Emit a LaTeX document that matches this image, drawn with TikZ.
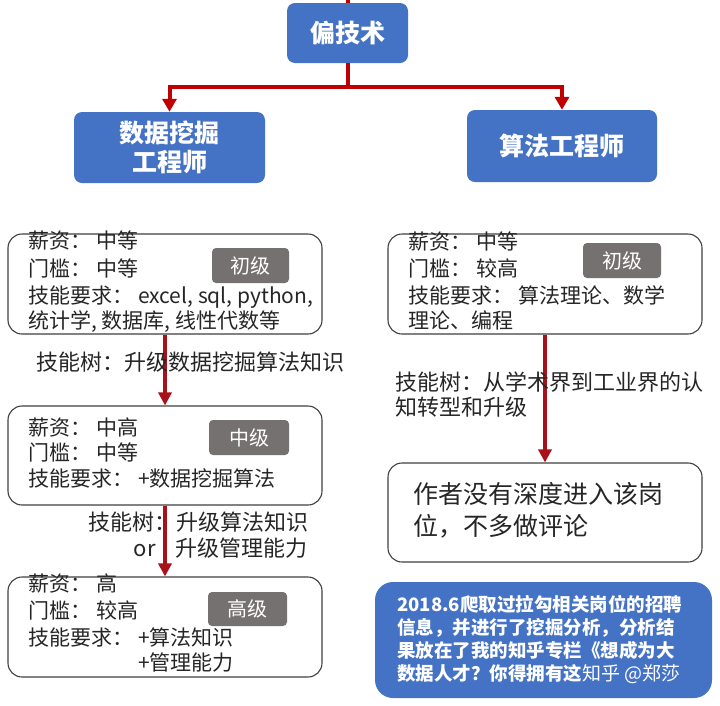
\documentclass[tikz,border=0pt]{standalone}
\usepackage{fontspec}
\setmainfont{Noto Sans CJK SC}
\usetikzlibrary{arrows.meta}
\definecolor{hblue}{HTML}{4472C4}
\definecolor{arrred}{HTML}{C00000}
\definecolor{colred}{HTML}{A8101A}
\definecolor{badgegray}{HTML}{767171}
\definecolor{bordgray}{HTML}{404040}
\definecolor{txt}{HTML}{262626}
\begin{document}
\begin{tikzpicture}[x=1pt,y=-1pt,
  headbox/.style={fill=hblue, rounded corners=8, text=white, font=\fontsize{25}{28}\bfseries\selectfont, align=center, inner sep=0},
  infobox/.style={draw=bordgray, line width=1.1pt, rounded corners=14, fill=white, minimum width=314, minimum height=100, inner sep=0},
  badgebox/.style={fill=badgegray, rounded corners=4, text=white, font=\fontsize{20}{22}\selectfont, inner sep=0, minimum height=35},
  ln/.style={anchor=west, inner sep=0, text=txt, font=\fontsize{21}{24}\selectfont, text height=0.88em, text depth=0.12em},
  lnbig/.style={ln, font=\fontsize{25}{28}\selectfont},
  lab/.style={ln, font=\fontsize{22}{24}\selectfont},
  bluetxt/.style={anchor=west, inner sep=0, text=white, font=\fontsize{18.5}{22}\bfseries\selectfont, text height=0.88em, text depth=0.12em},
  conn/.style={draw=arrred, line width=4pt},
  connarr/.style={conn, -{Triangle[length=13pt,width=14pt]}},
  colarr/.style={draw=colred, line width=4pt, -{Triangle[length=13pt,width=13pt]}},
]
\useasboundingbox[fill=white] (0,0) rectangle (720,705);

% heading boxes
\node[headbox, minimum width=121, minimum height=60] (top) at (347.5,33) {偏技术};
\node[headbox, minimum width=191, minimum height=71] (dm) at (169.5,147.5) {数据挖掘\\[1pt]工程师};
\node[headbox, minimum width=190, minimum height=72] (alg) at (562,146) {算法工程师};

\coordinate (topin) at (347.5,0);
\draw[conn] (topin) -- (top.north);
\draw[connarr] (top.south) -- ++(0,24) -| (dm.north);
\draw[connarr] (top.south) -- ++(0,24) -| (alg.north);

% left column boxes
\node[infobox] (L1) at (165,284) {};
\node[infobox, minimum height=99] (L2) at (165,455.5) {};
\node[infobox] (L3) at (165,627) {};
% right column boxes
\node[infobox] (R1) at (545,284) {};
\node[infobox, minimum height=99] (R2) at (545,512.5) {};
\node[fill=hblue, rounded corners=18, minimum width=337, minimum height=116, inner sep=0] (B) at (543.5,640) {};

% badges
\node[badgebox, minimum width=77] (b1) at (250.5,265.5) {初级};
\node[badgebox, minimum width=80] (b2) at (249,437.5) {中级};
\node[badgebox, minimum width=79, minimum height=34] (b3) at (247.5,609) {高级};
\node[badgebox, minimum width=78] (b4) at (622,260.5) {初级};

% L1 text
\node[ln] (l1a) at (28,245) {薪资：\hspace{5pt}中等};
\node[ln] (l1b) at (28,273) {门槛：\hspace{5pt}中等};
\node[ln] (l1c) at (28,300) {技能要求：\hspace{5pt}excel, sql, python,};
\node[ln] (l1d) at (28,325) {统计学, 数据库, 线性代数等};
% L2 text
\node[ln] (l2a) at (28,432) {薪资：\hspace{5pt}中高};
\node[ln] (l2b) at (28,457) {门槛：\hspace{5pt}中等};
\node[ln] (l2c) at (28,483) {技能要求：\hspace{5pt}+数据挖掘算法};
% L3 text
\node[ln] (l3a) at (28,588) {薪资：\hspace{5pt}高};
\node[ln] (l3b) at (28,615) {门槛：\hspace{5pt}较高};
\node[ln] (l3c) at (28,642) {技能要求：\hspace{5pt}+算法知识};
\node[ln] (l3d) at (138,667) {+管理能力};
% R1 text
\node[ln] (r1a) at (408,246) {薪资：\hspace{5pt}中等};
\node[ln] (r1b) at (408,273) {门槛：\hspace{5pt}较高};
\node[ln] (r1c) at (408,300) {技能要求：\hspace{5pt}算法理论、数学};
\node[ln] (r1d) at (408,325) {理论、编程};
% R2 text
\node[lnbig] (r2a) at (413,500) {作者没有深度进入该岗};
\node[lnbig] (r2b) at (413,532) {位，不多做评论};

% column arrows
\draw[colarr] (L1.south) -- (L2.north);
\draw[colarr] (L2.south) -- (L3.north);
\draw[colarr] (R1.south) -- (R2.north);

% labels
\node[lab] (t1) at (36,367) {技能树：升级数据挖掘算法知识};
\node[lab] (t2a) at (88,527) {技能树：升级算法知识};
\node[lab, anchor=east] (t2o) at (156,553) {or};
\node[lab] (t2b) at (175,553) {升级管理能力};
\node[lab] (t3a) at (395,387) {技能树：从学术界到工业界的认};
\node[lab] (t3b) at (395,412) {知转型和升级};

% blue box text
\node[bluetxt] (bt1) at (397,608) {2018.6爬取过拉勾相关岗位的招聘};
\node[bluetxt] (bt2) at (397,631) {信息，并进行了挖掘分析，分析结};
\node[bluetxt] (bt3) at (397,654) {果放在了我的知乎专栏《想成为大};
\node[bluetxt] (bt4) at (397,677) {数据人才？你得拥有这};
\node[anchor=west, inner sep=0, text=white, font=\fontsize{19}{22}\selectfont, text height=0.88em, text depth=0.12em] (wm) at (bt4.east) {知乎 @郑莎};
\end{tikzpicture}
\end{document}
